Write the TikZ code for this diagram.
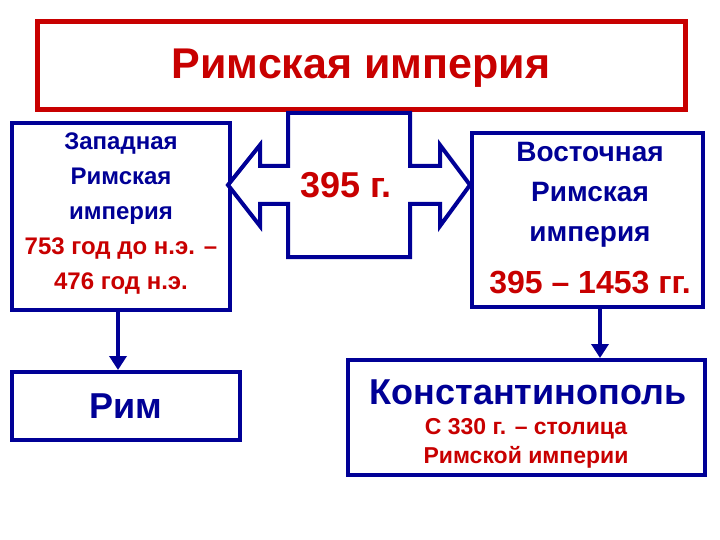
\documentclass[tikz,border=0pt]{standalone}
\usepackage{fontspec}
\usetikzlibrary{arrows.meta}
\setmainfont{Liberation Sans}
\definecolor{nb}{RGB}{0,0,150}
\definecolor{rd}{RGB}{200,0,0}
\begin{document}
\begin{tikzpicture}[x=1pt,y=-1pt,
  bx/.style={draw=nb,line width=4pt,fill=white},
  ar/.style={draw=nb,line width=3.5pt,-{Triangle[length=14pt,width=17pt]}},
  font=\bfseries]
\useasboundingbox (0,0) rectangle (720,540);
\draw[draw=rd,line width=5pt,fill=white] (37,22) rectangle (685,110);
\node (t) at (361,68) {\color{rd}\fontsize{43}{48}\selectfont Римская империя};
\draw[bx] (12,123) rectangle (230,310);
\node[align=center,font=\bfseries\fontsize{24}{35}\selectfont] (wt) at (121,214) {\color{nb}Западная\\\color{nb}Римская\\\color{nb}империя\\\color{rd}753 год до н.э. –\\\color{rd}476 год н.э.};
\draw[bx] (472,133) rectangle (703,307);
\node[align=center,font=\bfseries\fontsize{28}{40}\selectfont] (et) at (590,195) {\color{nb}Восточная\\\color{nb}Римская\\\color{nb}империя};
\node (ed) at (590,283) {\color{rd}\fontsize{32}{36}\selectfont 395 – 1453 гг.};
\draw[bx,line join=miter] (288,113) -- (410,113) -- (410,166) -- (440,166) -- (440,145) -- (470,185) -- (440,226) -- (440,204) -- (410,204) -- (410,257) -- (288,257) -- (288,204) -- (260,204) -- (260,226) -- (228,185) -- (260,145) -- (260,166) -- (288,166) -- cycle;
\node (y) at (346,185) {\color{rd}\fontsize{36}{40}\selectfont 395 г.};
\draw[bx] (12,372) rectangle (240,440);
\node (r) at (126,406) {\color{nb}\fontsize{36}{40}\selectfont Рим};
\draw[bx] (348,360) rectangle (705,475);
\node (k) at (528,392) {\color{nb}\fontsize{36}{40}\selectfont Константинополь};
\node[align=center,font=\bfseries\fontsize{23}{29}\selectfont] (kt) at (526,443) {\color{rd}С 330 г. – столица\\\color{rd}Римской империи};
\coordinate (a1) at (118,312); \coordinate (a2) at (118,370);
\coordinate (b1) at (600,309); \coordinate (b2) at (600,358);
\draw[ar] (a1) -- (a2);
\draw[ar] (b1) -- (b2);
\end{tikzpicture}
\end{document}
